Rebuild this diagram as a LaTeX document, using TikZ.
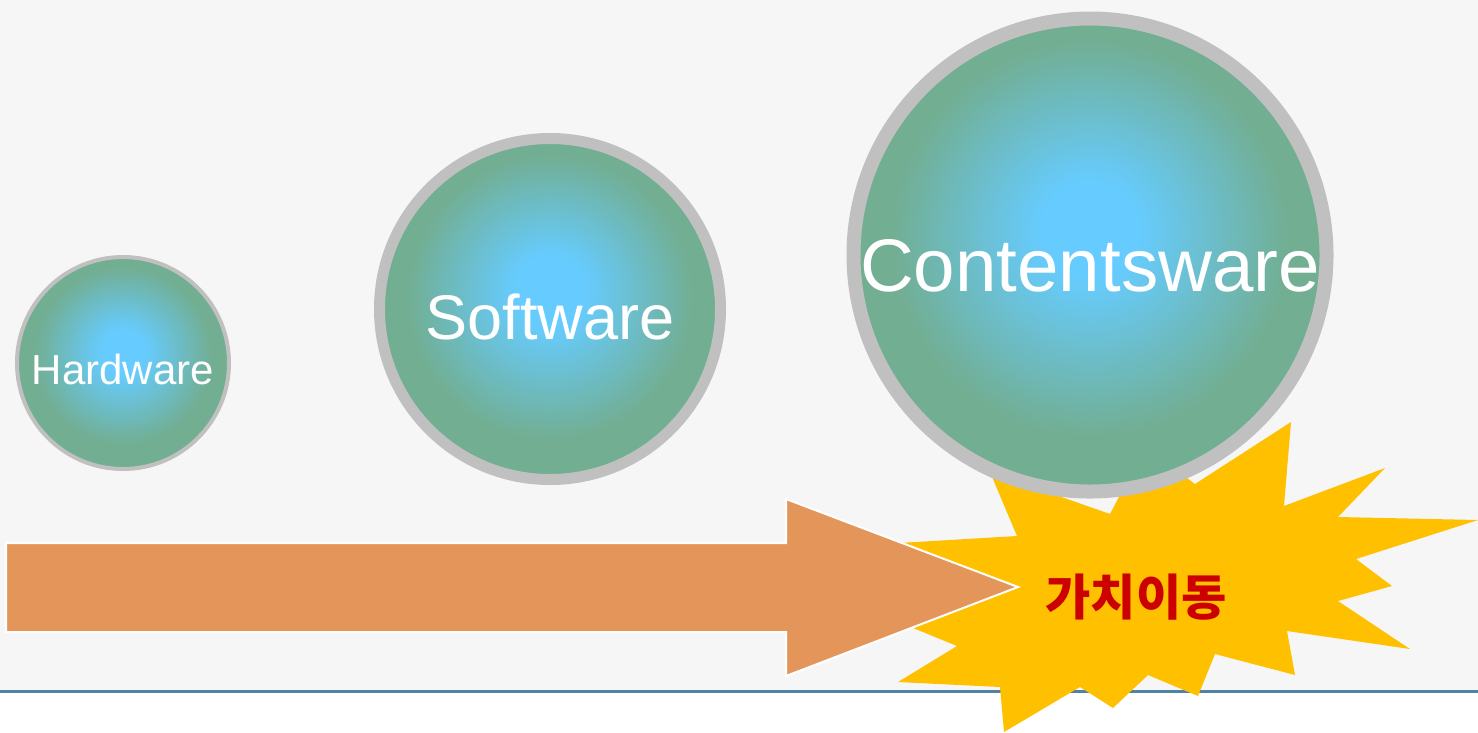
\documentclass[tikz,border=0pt]{standalone}
\usepackage{fontspec}
\setmainfont{Liberation Sans}
\newfontfamily\kofont{Noto Sans CJK KR}
\usetikzlibrary{positioning}

\definecolor{bgfill}{HTML}{F6F6F6}
\definecolor{rulecolor}{HTML}{4F82A3}
\definecolor{ballrim}{HTML}{72AE92}
\definecolor{ballcore}{HTML}{66CCFF}
\definecolor{ballring}{HTML}{C0C0C0}
\definecolor{arrowfill}{HTML}{E4965A}
\definecolor{burstfill}{HTML}{FFC000}
\definecolor{burstred}{HTML}{CC0000}

\pgfdeclareradialshading{ballshade}{\pgfpoint{0bp}{3bp}}{color(0bp)=(ballcore); color(5bp)=(ballcore); color(21bp)=(ballrim); color(25bp)=(ballrim); color(50bp)=(ballrim)}

\begin{document}
\begin{tikzpicture}[x=0.2mm, y=-0.2mm,
  bubble/.style={circle, draw=ballring, shading=ballshade, inner sep=0pt},
  bubbletext/.style={text=white, inner sep=0pt}]
\useasboundingbox (0,0) rectangle (1478,732);

% Background and rule
\fill[bgfill] (0,0) rectangle (1478,691);
\draw[rulecolor, line width=0.6mm] (0,691.5) -- (1478,691.5);

% Burst
\fill[burstfill] (990,472) -- (1110,514) -- (1145,447) -- (1195,484)
  -- (1291,422) -- (1284,506) -- (1385,468) -- (1338,517)
  -- (1478,520) -- (1356,559) -- (1392,586) -- (1338,601)
  -- (1410,649) -- (1287,631) -- (1295,675) -- (1215,654)
  -- (1198,696) -- (1148,675) -- (1113,708) -- (1080,687)
  -- (1004,732) -- (1000,687) -- (898,682) -- (957,646)
  -- (730,553) -- (1017,536) -- cycle;

% Block arrow
\filldraw[fill=arrowfill, draw=white, line width=0.4mm]
  (6,543) -- (786,543) -- (786,499) -- (1018,587)
  -- (786,676) -- (786,632) -- (6,632) -- cycle;

% Bubbles
\node[bubble, line width=0.8mm, minimum size=42.4mm] (hw) at (123,363) {};
\node[bubble, line width=2.2mm, minimum size=68.2mm] (sw) at (550,309) {};
\node[bubble, line width=2.8mm, minimum size=94.6mm] (cw) at (1090,255) {};

% Labels
\node[bubbletext, font=\fontsize{23.9}{24}\selectfont] (hwlabel) at (123,369) {Hardware};
\node[bubbletext, font=\fontsize{35.9}{36}\selectfont] (swlabel) at (550,317) {Software};
\node[bubbletext, font=\fontsize{42.4}{42}\selectfont] (cwlabel) at (1090,266) {Contentsware};
\node[text=burstred, inner sep=0pt, font=\kofont\bfseries\fontsize{28}{28}\selectfont] (shiftlabel) at (1136,597) {가치이동};
\end{tikzpicture}
\end{document}
